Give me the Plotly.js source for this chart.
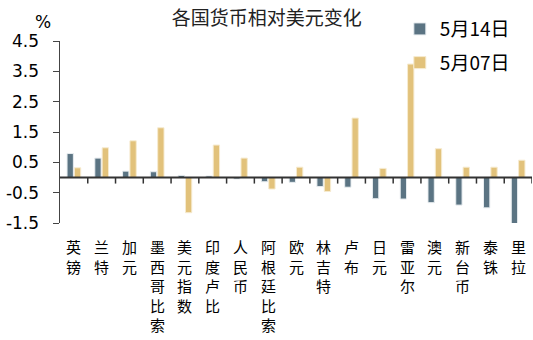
<!DOCTYPE html>
<html>
<head>
<meta charset="utf-8">
<script src="https://cdn.plot.ly/plotly-3.0.1.min.js"></script>
<style>html,body{margin:0;padding:0;background:#fff;}#chart{width:533px;height:340px;}</style>
</head>
<body>
<div id="chart"></div>
<script>
var categories = ["英镑","兰特","加元","墨西哥比索","美元指数","印度卢比","人民币","阿根廷比索","欧元","林吉特","卢布","日元","雷亚尔","澳元","新台币","泰铢","里拉"];
var may14 = [0.79,0.64,0.21,0.19,0.07,0.05,-0.05,-0.14,-0.16,-0.30,-0.32,-0.70,-0.71,-0.83,-0.91,-1.00,-1.58];
var may07 = [0.32,0.98,1.21,1.64,-1.16,1.07,0.64,-0.38,0.34,-0.46,1.96,0.30,3.74,0.95,0.34,0.34,0.57];
var seriesNames = ["5月14日","5月07日"];
var yTickVals = [-1.5,-0.5,0.5,1.5,2.5,3.5,4.5];
var yTickText = ["-1.5","-0.5","0.5","1.5","2.5","3.5","4.5"];
var titleText = "各国货币相对美元变化";
var unitText = "%";

var font = "DejaVu Sans, Noto Sans CJK SC, sans-serif";
var cjk = "Noto Sans CJK SC, DejaVu Sans, sans-serif";
var idx = categories.map(function(c,i){return i;});
var sepVals = categories.map(function(c,i){return i+0.5;});

var traces = [
  {type:"bar", x:idx, y:may14, name:seriesNames[0], legendgroup:"a",
   marker:{color:"#5B7483", line:{color:"#E8EDF0", width:1}}},
  {type:"bar", x:idx, y:may07, name:seriesNames[1], legendgroup:"b",
   marker:{color:"#E2C27B", line:{color:"#F6EBD0", width:1}}}
];

var annotations = categories.map(function(c,i){
  return {text:c.split("").join("<br>"), x:i, xref:"x", y:-0.06, yref:"paper",
          xanchor:"center", yanchor:"top", showarrow:false,
          font:{family:cjk, size:15, color:"#000"}};
});
annotations.push({text:unitText, xref:"paper", yref:"paper", x:-0.035, y:1.105, xanchor:"center", yanchor:"middle",
                showarrow:false, font:{family:font, size:17, color:"#000"}});

// axis decoration: baseline at zero and separator ticks hanging below it
var shapes = [{type:"line", xref:"paper", x0:0, x1:1, yref:"y", y0:0, y1:0, layer:"above",
               line:{color:"#333", width:2}}];
sepVals.forEach(function(v){
  shapes.push({type:"line", xref:"x", x0:v, x1:v, yref:"y", y0:0, y1:-0.2, layer:"above",
               line:{color:"#333", width:1.5}});
});

var layout = {
  width:533, height:340,
  margin:{l:60, r:1, t:41, b:117},
  paper_bgcolor:"#fff", plot_bgcolor:"#fff",
  barmode:"group", bargap:0.47, bargroupgap:0.14,
  showlegend:true,
  legend:{x:0.72, y:1.17, xanchor:"left", yanchor:"top", font:{family:cjk, size:19, color:"#000"},
          tracegroupgap:6, bgcolor:"rgba(0,0,0,0)"},
  title:{text:titleText, x:0.237, xref:"paper", xanchor:"left", y:0.945, yanchor:"middle",
         font:{family:cjk, size:19, color:"#222"}},
  xaxis:{type:"linear", range:[-0.5,16.5], showticklabels:false, ticks:"", showline:false,
         showgrid:false, zeroline:false},
  yaxis:{range:[-1.5,4.5], tickmode:"array", tickvals:yTickVals, ticktext:yTickText,
         ticks:"outside", ticklen:6, tickcolor:"#444", showline:true, linecolor:"#444", linewidth:1.5,
         showgrid:false, zeroline:false, ticklabelstandoff:10,
         tickfont:{family:font, size:17, color:"#000"}},
  shapes:shapes,
  annotations:annotations
};
Plotly.newPlot("chart", traces, layout, {displayModeBar:false, staticPlot:true});
</script>
</body>
</html>
